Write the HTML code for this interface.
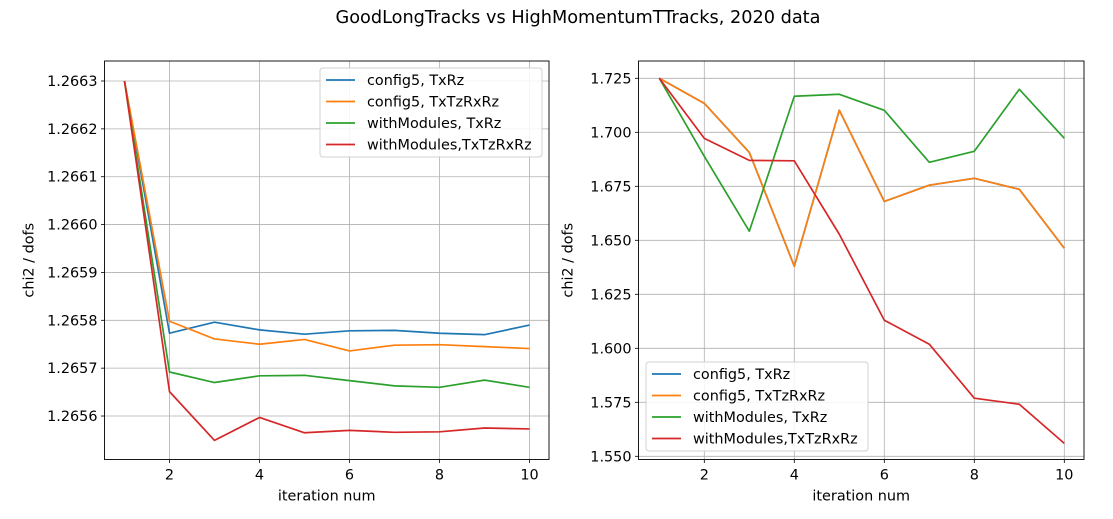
<!DOCTYPE html>
<html><head><meta charset="utf-8"><style>
body{margin:0;background:#fff;font-family:"DejaVu Sans","Liberation Sans",sans-serif;}
svg text{font-family:"DejaVu Sans","Liberation Sans",sans-serif;fill:#000;}
</style></head><body>
<svg id="fig" width="1113" height="515" xmlns="http://www.w3.org/2000/svg">
<rect width="1113" height="515" fill="#fff"/>
<text x="578" y="23" font-size="17.7" text-anchor="middle">GoodLongTracks vs HighMomentumTTracks, 2020 data</text>
</svg>
<script>
const iterations=[1,2,3,4,5,6,7,8,9,10];
const leftConfig5TxRz=[1.26630,1.265773,1.265796,1.265780,1.265771,1.265778,1.265779,1.265773,1.265770,1.265790];
const leftConfig5TxTzRxRz=[1.26630,1.265798,1.265761,1.265750,1.265760,1.265736,1.265748,1.265749,1.265745,1.265741];
const leftWithModulesTxRz=[1.26630,1.265692,1.265670,1.265684,1.265685,1.265674,1.265663,1.265660,1.265675,1.265660];
const leftWithModulesTxTzRxRz=[1.26630,1.265651,1.265549,1.265597,1.265565,1.265570,1.265566,1.265567,1.265575,1.265573];
const rightConfig5TxRz=[1.725,1.7134,1.6907,1.6380,1.7102,1.6680,1.6755,1.6787,1.6736,1.6463];
const rightConfig5TxTzRxRz=[1.725,1.7134,1.6907,1.6380,1.7102,1.6680,1.6755,1.6787,1.6736,1.6463];
const rightWithModulesTxRz=[1.725,1.6889,1.6542,1.7167,1.7176,1.7102,1.6861,1.6912,1.7199,1.6972];
const rightWithModulesTxTzRxRz=[1.725,1.6972,1.6870,1.6868,1.6528,1.6130,1.6019,1.5769,1.5741,1.5560];
const xTicks=[2,4,6,8,10];
const leftYTicks=[1.2656,1.2657,1.2658,1.2659,1.2660,1.2661,1.2662,1.2663];
const rightYTicks=[1.550,1.575,1.600,1.625,1.650,1.675,1.700,1.725];
const seriesNames=["config5, TxRz","config5, TxTzRxRz","withModules, TxRz","withModules,TxTzRxRz"];
const colors=["#1f77b4","#ff7f0e","#2ca02c","#d62728"];

const NS="http://www.w3.org/2000/svg";
const svg=document.getElementById('fig');
function mk(tag,attrs,parent){const e=document.createElementNS(NS,tag);for(const k in attrs)e.setAttribute(k,attrs[k]);(parent||svg).appendChild(e);return e;}
const FS=14.4;
function drawPanel(p){
  const g=mk('g',{});
  
  
  const X=v=>p.x0+(v-1)*p.xu;
  const Y=v=>p.y0+(p.v0-v)*p.yu;
  xTicks.forEach(t=>{
    const l=mk('line',{x1:X(t),x2:X(t),y1:p.top,y2:p.bottom,stroke:'#b0b0b0','stroke-width':0.8},g);
    
    
    mk('line',{x1:X(t),x2:X(t),y1:p.bottom,y2:p.bottom+3.5,stroke:'#000','stroke-width':0.8},g);
    const tx=mk('text',{x:X(t),y:p.bottom+20,'font-size':FS,'text-anchor':'middle'},g);
    tx.textContent=t;
    
    
  });
  p.yTicks.forEach(t=>{
    const l=mk('line',{x1:p.left,x2:p.right,y1:Y(t),y2:Y(t),stroke:'#b0b0b0','stroke-width':0.8},g);
    
    
    mk('line',{x1:p.left-3.5,x2:p.left,y1:Y(t),y2:Y(t),stroke:'#000','stroke-width':0.8},g);
    const tx=mk('text',{x:p.left-7,y:Y(t)+5,'font-size':FS,'text-anchor':'end'},g);
    tx.textContent=t.toFixed(p.dec);
    
    
  });
  p.series.forEach((s,i)=>{
    const pl=mk('polyline',{points:iterations.map((it,j)=>X(it)+','+Y(s[j])).join(' '),fill:'none',stroke:colors[i],'stroke-width':1.7,'stroke-linejoin':'round'},g);
    
    
  });
  const fr=mk('rect',{x:p.left,y:p.top,width:p.right-p.left,height:p.bottom-p.top,fill:'none',stroke:'#000','stroke-width':0.9},g);
  
  
  const xl=mk('text',{x:(p.left+p.right)/2,y:p.bottom+41,'font-size':FS,'text-anchor':'middle'},g);
  xl.textContent='iteration num';
  
  
  const yx=p.left-p.ylOff, yy=(p.top+p.bottom)/2;
  const yl=mk('text',{x:yx,y:yy,'font-size':FS,'text-anchor':'middle',transform:`rotate(-90 ${yx} ${yy})`},g);
  yl.textContent='chi2 / dofs';
  
  
  const lg=mk('g',{},g);
  
  
  mk('rect',{x:p.lx,y:p.ly,width:222,height:89,rx:3,fill:'#fff','fill-opacity':0.85,stroke:'#d0d0d0'},lg);
  seriesNames.forEach((n,i)=>{
    const cy=p.ly+12+i*21.5;
    mk('line',{x1:p.lx+6,x2:p.lx+35,y1:cy,y2:cy,stroke:colors[i],'stroke-width':1.8},lg);
    const t=mk('text',{x:p.lx+47,y:cy+5,'font-size':FS},lg);
    t.textContent=n;
    
    
  });
}
drawPanel({name:'left-chart',left:104.5,right:549,top:61,bottom:459.5,x0:124.5,xu:45,v0:1.2663,y0:81,yu:478600,yTicks:leftYTicks,dec:4,ylOff:71,
  series:[leftConfig5TxRz,leftConfig5TxTzRxRz,leftWithModulesTxRz,leftWithModulesTxTzRxRz],lx:320,ly:68});
drawPanel({name:'right-chart',left:638.5,right:1084,top:61,bottom:459.5,x0:659.3,xu:45,v0:1.725,y0:78.3,yu:2160,yTicks:rightYTicks,dec:3,ylOff:66,
  series:[rightConfig5TxRz,rightConfig5TxTzRxRz,rightWithModulesTxRz,rightWithModulesTxTzRxRz],lx:646,ly:362});
</script>
</body></html>
